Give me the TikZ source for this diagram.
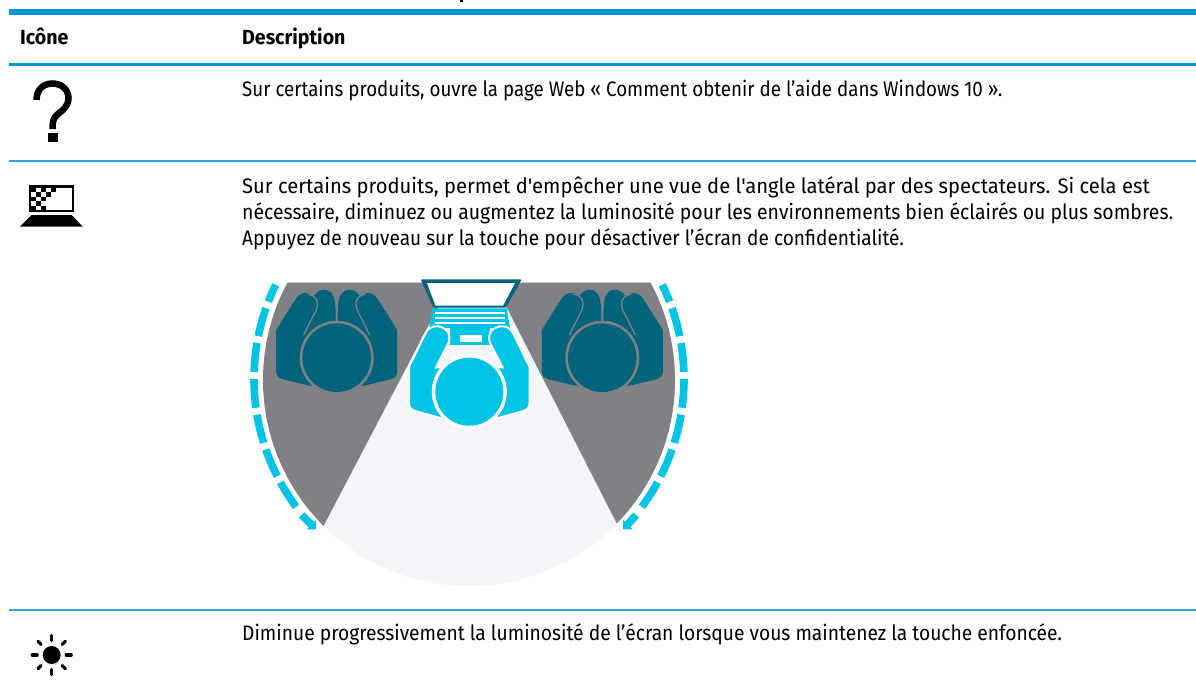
\documentclass[tikz,border=0pt]{standalone}
\usepackage{graphicx}
\usepackage{fontspec}
\setmainfont{Fira Sans}
\newfontfamily\ff{Fira Sans}
\definecolor{rulethick}{HTML}{0096D6}
\definecolor{rulethin}{HTML}{2AA7DE}
\definecolor{grayz}{HTML}{808184}
\definecolor{pale}{HTML}{F4F5F8}
\definecolor{teal}{HTML}{00637C}
\definecolor{cyanp}{HTML}{00C3E6}
\tikzset{
  txt/.style={anchor=base west,inner sep=0pt,font=\ff\fontsize{21}{24}\selectfont},
  hd/.style={anchor=base west,inner sep=0pt,font=\ff\fontsize{20.4}{24}\selectfont\bfseries},
  dasharc/.style={draw=cyanp,line width=7.6pt,dash pattern=on 29pt off 7pt,dash phase=10.6pt},
  tipfill/.style={fill=cyanp,draw=none},
  shaft/.style={draw=cyanp,line width=7.6pt},
}
\newcommand{\spectator}[1]{%
 \begin{scope}[shift={(#1,0)}]
  \fill[teal] (-60.5,373) -- (-60.5,330) -- (-41,299) .. controls (-36,291) and (-27,292) .. (-23,296) .. controls (-18,288) and (-7,287) .. (-3,297) .. controls (-1,303) and (-1,310) .. (-1,322) -- (1,322) .. controls (1,310) and (1,303) .. (3,297) .. controls (7,287) and (18,288) .. (23,296) .. controls (27,292) and (36,291) .. (41,299) -- (60.5,330) -- (60.5,373) .. controls (60.5,376) and (58,378) .. (55,379) -- (28,385.5) -- (-28,385.5) -- (-55,379) .. controls (-58,378) and (-60.5,376) .. cycle;
  \draw[grayz,line width=1.3pt] (-33,335) -- (-21,311) .. controls (-17,302) and (-20,296) .. (-29,294);
  \draw[grayz,line width=1.3pt] (33,335) -- (21,311) .. controls (17,302) and (20,296) .. (29,294);
  \draw[grayz,line width=1.4pt] (0,300) -- (0,322);
  \fill[grayz] (0,357.7) circle (37);
  \fill[teal] (0,357.7) circle (34.3);
 \end{scope}}
\newcommand{\userarm}{%
  \filldraw[fill=cyanp,draw=white,line width=2pt] (409,403) -- (409,367) -- (425,334) .. controls (430,323) and (443,325) .. (448,332) .. controls (450,336) and (450,340) .. (448,344) -- (436,367.5) -- (444,367) -- (450,420) -- (444,419) -- (415,411) .. controls (411,410) and (409,407) .. cycle;}
\begin{document}
\begin{tikzpicture}[x=1pt,y=-1pt,line cap=butt]
\useasboundingbox (0,0) rectangle (1196,698);
\fill[white] (0,0) rectangle (1196,698);
% rules
\fill[black] (459.5,0) rectangle (463,2);
\fill[rulethick] (9,9) rectangle (1196,14.7);
\fill[rulethick] (9,62.7) rectangle (1196,65.7);
\fill[rulethin] (9,160.3) rectangle (1196,161.8);
\fill[rulethin] (9,609) rectangle (1196,610.6);
% headers and texts
\node[hd] (h1) at (20,45) {\scalebox{0.96}[1]{Icône}};
\node[hd] (h2) at (242,45) {\scalebox{0.96}[1]{Description}};
\node[txt] (t1) at (242,96.7) {\scalebox{0.893}[1]{Sur certains produits, ouvre la page Web « Comment obtenir de l’aide dans Windows 10 ».}};
\node[txt] (t2) at (242,193.3) {\scalebox{0.962}[1]{Sur certains produits, permet d'empêcher une vue de l'angle latéral par des spectateurs. Si cela est}};
\node[txt] (t3) at (242,219.2) {\scalebox{0.925}[1]{nécessaire, diminuez ou augmentez la luminosité pour les environnements bien éclairés ou plus sombres.}};
\node[txt] (t4) at (242,245) {\scalebox{0.909}[1]{Appuyez de nouveau sur la touche pour désactiver l’écran de confidentialité.}};
\node[txt] (t5) at (242,640.5) {\scalebox{0.915}[1]{Diminue progressivement la luminosité de l’écran lorsque vous maintenez la touche enfoncée.}};
% question icon
\draw[black,line width=6.5pt] (36.5,100) .. controls (36.5,90) and (43,83.5) .. (52.5,83.5) .. controls (62,83.5) and (68.5,90) .. (68.5,98) .. controls (68.5,106) and (63,110) .. (58,114) .. controls (53,118) and (52.5,122) .. (52.5,129);
\fill[black] (47.7,133) rectangle (57.7,142);
% laptop icon
\draw[black,line width=1.6pt] (30,186) rectangle (72.7,211);
\fill[black] (30,185.3) rectangle (72.7,188);
\foreach \cc/\rr in {0/0,2/0,4/0,1/1,3/1,0/2,2/2,1/3,0/4,2/4}{\fill[black] ({31+\cc*5},{187.5+\rr*4.6}) rectangle ++(5,4.6);}
\fill[black] (31.7,215) -- (71.7,215) -- (82.7,226.7) -- (20,226.7) -- cycle;
% sun icon
\fill[black] (51.7,655) circle (9);
\foreach \a in {0,90,180,270}{\draw[black,line width=3.2pt,line cap=round] (51.7,655)+(\a:14.5) -- +(\a:19.5);}
\foreach \a in {45,135,225,315}{\draw[black,line width=3.2pt,line cap=round] (51.7,655)+(\a:15) -- +(\a:19.5);}
% scene
\begin{scope}
  \clip (200,282.5) rectangle (740,600);
  \fill[pale] (469,380) circle (206);
  \begin{scope}
    \clip (469,380) circle (206);
    \fill[grayz] (240,282.5) -- (451,282.5) -- (323,527) -- (240,527) -- cycle;
    \fill[grayz] (494,282.5) -- (700,282.5) -- (700,527) -- (616.5,523) -- cycle;
  \end{scope}
\end{scope}
% spectators
\spectator{336.7}
\spectator{602.3}
% laptop of user
\fill[cyanp] (432.7,308.3) -- (506.7,308.3) -- (510,328) -- (429,328) -- cycle;
\fill[cyanp] (450,328) rectangle (490,345);
\foreach \yy in {311.7,316.7,321.7}{\fill[white] (435,\yy) rectangle (505,\yy+2.6);}
\fill[white] (460,335) rectangle (482,341.7);
\fill[teal,rounded corners=1.2pt] (420.7,279.3) -- (521.7,279.3) -- (506,307.6) -- (433.3,307.6) -- cycle;
\fill[white] (427,283) -- (515,283) -- (503,305.7) -- (435.5,305.7) -- cycle;
% user
\userarm
\begin{scope}[shift={(938.6,0)},xscale=-1]\userarm\end{scope}
\fill[white] (469.3,391.7) circle (37.5);
\fill[cyanp] (469.3,391.7) circle (34);
% arcs
\draw[dasharc] plot[smooth,domain=206:142.3,samples=50] ({469+215*cos(\x)},{379+215*sin(\x)});
\draw[dasharc] plot[smooth,domain=-26:37.7,samples=50] ({469+215*cos(\x)},{379+215*sin(\x)});
\coordinate (ls) at (301.7,515); \coordinate (le) at (311.3,524.6);
\coordinate (rs) at (636,515); \coordinate (re) at (627.6,524.6);
\draw[shaft] (ls) -- (le);
\draw[shaft] (rs) -- (re);
\fill[tipfill] (306.7,529.4) -- (316,529.4) -- (316,520) -- cycle;
\fill[tipfill] (632.5,529.4) -- (623,529.4) -- (623,520) -- cycle;
\end{tikzpicture}
\end{document}
